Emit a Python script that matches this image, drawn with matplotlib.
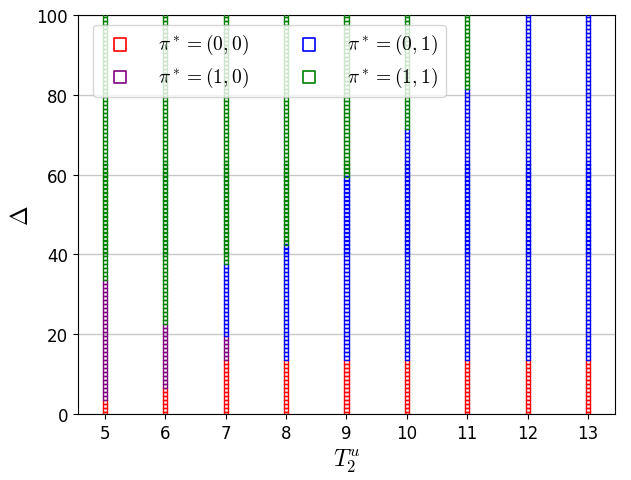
import matplotlib
matplotlib.use("Agg")
import matplotlib.pyplot as plt
import numpy as np

plt.rcParams['mathtext.fontset'] = 'cm'

# T_2^u values and the top Delta of each optimal-policy region
T2u = [5, 6, 7, 8, 9, 10, 11, 12, 13]
top_00 = [3, 6, 13, 13, 13, 13, 13, 13, 13]      # red: pi*=(0,0)
top_10 = [33, 22, 19, 13, 13, 13, 13, 13, 13]    # purple: pi*=(1,0)
top_01 = [33, 22, 37, 42, 59, 71, 81, 100, 100]  # blue: pi*=(0,1)
delta = np.arange(0, 101, 1)

labels = [r'$\pi^* = (0, 0)$', r'$\pi^* = (1, 0)$', r'$\pi^* = (0, 1)$', r'$\pi^* = (1, 1)$']
colors = ['red', 'purple', 'blue', 'green']

fig, ax = plt.subplots(figsize=(6.31, 4.81), dpi=100)

pts = {k: ([], []) for k in range(4)}
for i, t in enumerate(T2u):
    for d in delta:
        if d <= top_00[i]:
            k = 0
        elif d <= top_10[i]:
            k = 1
        elif d <= top_01[i]:
            k = 2
        else:
            k = 3
        pts[k][0].append(t)
        pts[k][1].append(d)

handles = []
for k in range(4):
    h = ax.scatter(pts[k][0], pts[k][1], marker='s', s=9, facecolors='none',
                   edgecolors=colors[k], linewidths=1.0,
                   label=labels[k], zorder=3)
    handles.append(h)

ax.set_xlim(4.55, 13.45)
ax.set_ylim(0, 100)
ax.set_xticks(T2u)
ax.set_yticks([0, 20, 40, 60, 80, 100])
ax.tick_params(labelsize=12)
ax.grid(axis='y', color='#c8c8c8', linewidth=1)
ax.set_axisbelow(True)
ax.set_xlabel(r'$T_2^u$', fontsize=17)
ax.set_ylabel(r'$\Delta$', fontsize=17, labelpad=2)

leg = ax.legend(handles=handles, ncol=2, loc='upper left',
                bbox_to_anchor=(0.01, 1.0), fontsize=14, markerscale=3.0,
                handletextpad=0.95, columnspacing=2.1, labelspacing=0.45)
for lh in leg.legend_handles:
    lh.set_linewidth(1.2)

fig.subplots_adjust(left=0.123, right=0.975, top=0.967, bottom=0.137)
fig.savefig('out.png', dpi=100)
